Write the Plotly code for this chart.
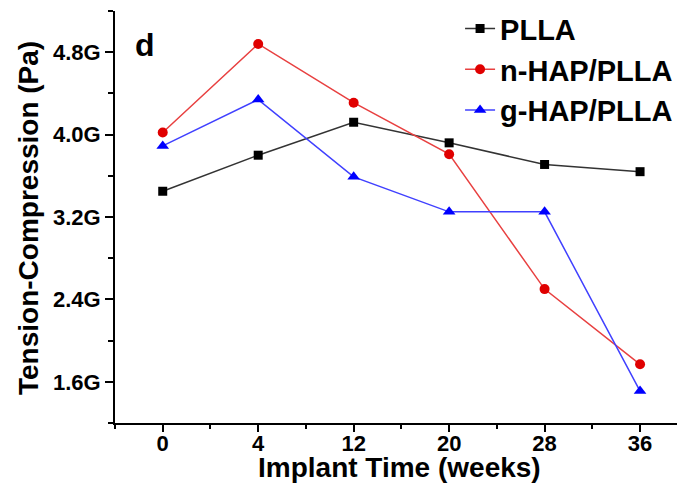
import plotly.graph_objects as go

weeks = ["0", "4", "12", "20", "28", "36"]
plla = [3.45e9, 3.80e9, 4.12e9, 3.92e9, 3.71e9, 3.64e9]
nhap = [4.02e9, 4.88e9, 4.31e9, 3.81e9, 2.50e9, 1.77e9]
ghap = [3.89e9, 4.34e9, 3.59e9, 3.25e9, 3.25e9, 1.51e9]
y_ticks = [1.6e9, 2.4e9, 3.2e9, 4.0e9, 4.8e9]

xi = list(range(len(weeks)))
FONT = "Liberation Sans, Arial, sans-serif"

fig = go.Figure()
fig.add_trace(go.Scatter(x=xi, y=plla, name="PLLA", mode="lines+markers",
                         line=dict(color="#333333", width=1.5),
                         marker=dict(symbol="square", size=9, color="#000000")))
fig.add_trace(go.Scatter(x=xi, y=nhap, name="n-HAP/PLLA", mode="lines+markers",
                         line=dict(color="#e84040", width=1.5),
                         marker=dict(symbol="circle", size=10, color="#e00000")))
fig.add_trace(go.Scatter(x=xi, y=ghap, name="g-HAP/PLLA", mode="lines+markers",
                         line=dict(color="#4040ff", width=1.5),
                         marker=dict(symbol="triangle-up", size=11, color="#0000ff")))

L, R, T, B, W, H = 115, 0, 11, 60, 677, 483
pw, ph = W - L - R, H - T - B

def px(x):
    return (x - L) / pw

def py(y):
    return 1 - (y - T) / ph

fig.update_layout(
    width=W, height=H,
    margin=dict(l=L, r=R, t=T, b=B, autoexpand=False),
    paper_bgcolor="white", plot_bgcolor="white",
    font=dict(family=FONT, color="black"),
    showlegend=True,
    legend=dict(x=0.614, y=1.019, xanchor="left", yanchor="top",
                font=dict(size=29, family=FONT, weight="bold"),
                bgcolor="rgba(0,0,0,0)", tracegroupgap=0, itemwidth=30),
    annotations=[
        dict(x=px(145), y=py(45), xref="paper", yref="paper", text="d",
             showarrow=False, font=dict(size=32, family=FONT, weight="bold"),
             xanchor="center", yanchor="middle"),
        dict(x=px(399), y=py(467), xref="paper", yref="paper", text="Implant Time (weeks)",
             showarrow=False, font=dict(size=28, family=FONT, weight="bold"),
             xanchor="center", yanchor="middle"),
        dict(x=px(28), y=py(218), xref="paper", yref="paper", text="Tension-Compression (Pa)",
             showarrow=False, textangle=-90, font=dict(size=28, family=FONT, weight="bold"),
             xanchor="center", yanchor="middle"),
    ],
)

fig.update_xaxes(
    range=[-0.5, 5.387], tickmode="array", tickvals=xi, ticktext=weeks,
    showline=True, linecolor="black", linewidth=2, showgrid=False, zeroline=False,
    ticks="outside", ticklen=7, tickwidth=2, tickcolor="black", automargin=False,
    ticklabelstandoff=-7,
    tickfont=dict(size=22, family=FONT, weight="bold"),
    minor=dict(tickmode="linear", tick0=-0.5, dtick=1, ticks="outside", ticklen=4,
               tickwidth=2, tickcolor="black", showgrid=False),
)
fig.update_yaxes(
    range=[1.2e9, 5.2e9], tickmode="array", tickvals=y_ticks, tickformat=".2s",
    showline=True, linecolor="black", linewidth=2, showgrid=False, zeroline=False,
    ticks="outside", ticklen=8, tickwidth=2, tickcolor="black", automargin=False,
    tickfont=dict(size=22, family=FONT, weight="bold"),
    minor=dict(tickmode="linear", tick0=1.2e9, dtick=0.4e9, ticks="outside", ticklen=5,
               tickwidth=2, tickcolor="black", showgrid=False),
)

fig.write_html("out.html", config={"displayModeBar": False},
               post_script="document.body.style.margin='0px';document.body.style.overflow='hidden';")
